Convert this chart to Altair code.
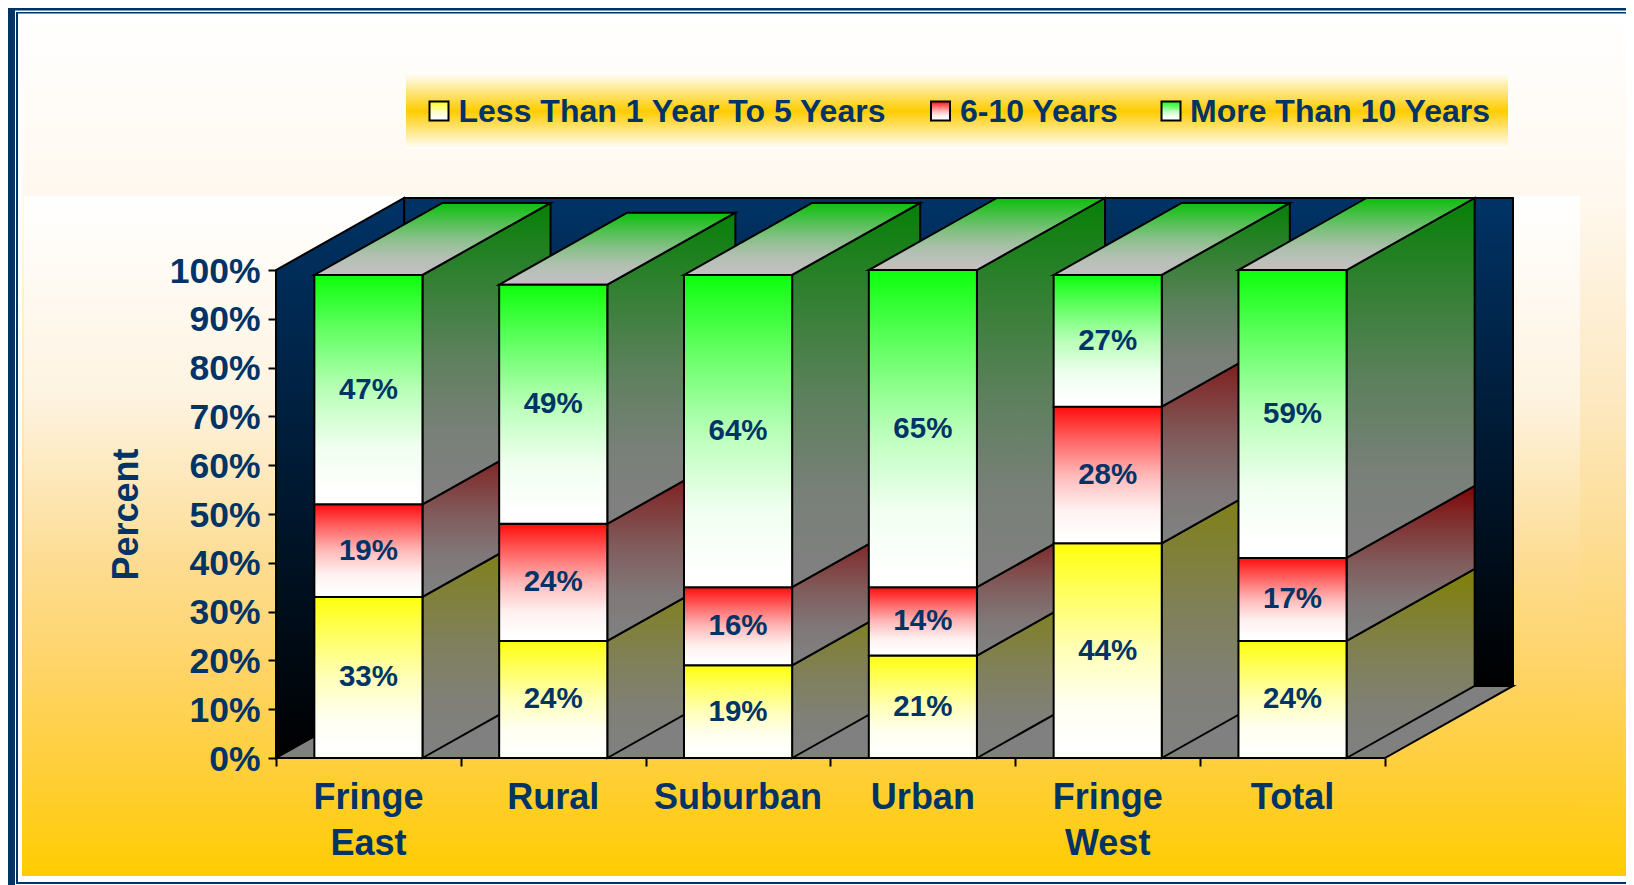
import altair as alt
import pandas as pd

# ---------- data ----------
categories = ["Fringe\nEast", "Rural", "Suburban", "Urban", "Fringe\nWest", "Total"]
series_names = ["Less Than 1 Year To 5 Years", "6-10 Years", "More Than 10 Years"]
under_5 = [33, 24, 19, 21, 44, 24]
six_ten = [19, 24, 16, 14, 28, 17]
over_10 = [47, 49, 64, 65, 27, 59]
series_values = [under_5, six_ten, over_10]
y_ticks = list(range(0, 101, 10))
x_ticks = list(range(0, 7))

# ---------- styling ----------
NAVY = "#003366"
FONT = "Liberation Sans"
FRONT = ["#ffff00", "#ff0000", "#00ff00"]
SIDE = ["#808000", "#800000", "#008000"]

# 3-D projection expressed in data units (categories / percent)
DX, DY = 0.693, 14.77
BAR = 0.585
PLOT_L, PLOT_T, PLOT_W, PLOT_H = 276, 198, 1237, 560

xs = alt.Scale(domain=[0, 6 + DX], nice=False, zero=False)
ys = alt.Scale(domain=[0, 100 + DY], nice=False, zero=False)

X_AXIS = alt.Axis(values=x_ticks, labels=False, title=None, domain=False, grid=False,
                  tickSize=8, tickWidth=2, tickColor="black", zindex=1)
Y_AXIS = alt.Axis(values=y_ticks, labelExpr="datum.value + '%'", domain=False, grid=False,
                  tickSize=8, tickWidth=2, tickColor="black", labelPadding=8, labelOffset=1,
                  labelFont=FONT, labelFontWeight="bold", labelFontSize=35.5,
                  labelColor=NAVY, labelBaseline="middle",
                  title="Percent", titleFont=FONT, titleFontWeight="bold",
                  titleFontSize=36, titleColor=NAVY, titleAngle=-90,
                  titleX=126 - PLOT_L, titleY=514 - PLOT_T,
                  titleAlign="center", titleBaseline="middle", zindex=1)


def X(f):
    return alt.X(f, scale=xs, axis=X_AXIS)


def Y(f):
    return alt.Y(f, scale=ys, axis=Y_AXIS)


def grad(stops):
    n = len(stops)
    items = [s if isinstance(s, tuple) else (i / (n - 1), s) for i, s in enumerate(stops)]
    return alt.LinearGradient(
        gradient="linear", x1=0, y1=0, x2=0, y2=1,
        stops=[alt.GradientStop(offset=o, color=c) for o, c in items],
    )


def fade(c0, c1):
    """Gradient that leaves c0 quickly and settles on c1, as the source shading does."""
    a = [int(c0[i:i + 2], 16) for i in (1, 3, 5)]
    b = [int(c1[i:i + 2], 16) for i in (1, 3, 5)]
    stops = []
    for off, m in [(0, 0.05), (0.25, 0.4), (0.5, 0.72), (0.75, 0.94), (0.95, 1)]:
        rgb = [round(p + (q - p) * m) for p, q in zip(a, b)]
        stops.append((off, "#%02x%02x%02x" % tuple(rgb)))
    return grad(stops)


def px(v):
    return alt.value(v - PLOT_L)


def py(v):
    return alt.value(v - PLOT_T)


ONE = pd.DataFrame({"k": [0]})


def box(x0, y0, x1, y1, fill):
    return alt.Chart(ONE).mark_rect(fill=fill, opacity=1).encode(
        x=px(x0), x2=px(x1), y=py(y0), y2=py(y1))


def horiz(y0, y1, l0, r0, l1, r1, fill, sw=2):
    df = pd.DataFrame({"y": [y0, y1], "a": [l0, l1], "b": [r0, r1]})
    return alt.Chart(df).mark_area(
        orient="horizontal", fill=fill, stroke="black", strokeWidth=sw, opacity=1
    ).encode(x=X("a:Q"), x2="b:Q", y=Y("y:Q"))


def vert(x0, x1, lo0, hi0, lo1, hi1, fill, sw=2):
    df = pd.DataFrame({"x": [x0, x1], "a": [lo0, lo1], "b": [hi0, hi1]})
    return alt.Chart(df).mark_area(
        orient="vertical", fill=fill, stroke="black", strokeWidth=sw, opacity=1
    ).encode(x=X("x:Q"), y=Y("a:Q"), y2="b:Q")


layers = []

# ---------- page decoration ----------
layers += [
    box(7, 3, 1700, 900, NAVY),
    box(15, 10.5, 1700, 900, "#ffffff"),
    box(16, 12, 1700, 884, NAVY),
    box(18, 13.5, 1700, 882, "#ffffff"),
    box(22, 14, 1630, 876, grad([
        (0, "#ffffff"), (0.216, "#fff8ee"), (0.448, "#fde8c0"), (0.642, "#fddb8a"),
        (0.758, "#ffd468"), (0.874, "#ffcf3a"), (1, "#ffcc00")])),
    box(24, 196, 1580, 876, grad([
        (0, "#ffffff"), (0.3, "#fef3e0"), (0.545, "#fddc90"),
        (0.69, "#ffd468"), (0.84, "#ffcf3a"), (1, "#ffcc00")])),
    box(406, 73, 1508, 149, grad([
        (0, "#ffffff"), (0.5, "#ffcc00"), (1, "#ffffff")])),
]

# ---------- legend ----------
legend_swatch_x = [429.5, 931, 1161.5]
legend_text_x = [458.5, 960, 1190]
for name, color, sx, tx in zip(series_names, FRONT, legend_swatch_x, legend_text_x):
    layers.append(
        alt.Chart(ONE).mark_rect(
            fill=fade(color, "#ffffff"), stroke="black", strokeWidth=2, opacity=1
        ).encode(x=px(sx), x2=px(sx + 19), y=py(101.5), y2=py(120.5))
    )
    layers.append(
        alt.Chart(ONE).mark_text(
            text=name, font=FONT, fontWeight="bold", fontSize=32, color=NAVY,
            align="left", baseline="middle",
        ).encode(x=px(tx), y=py(112))
    )

# ---------- walls and floor ----------
wall = grad(["#003366", "#000000"])
layers.append(horiz(DY, 100 + DY, DX, 6 + DX, DX, 6 + DX, wall))
layers.append(vert(0, DX, 0, 100, DY, 100 + DY, wall))
layers.append(horiz(0, DY, 0, 6, DX, 6 + DX, "#808080"))

# ---------- 3-D stacked bars, painted left to right ----------
for i in range(len(categories)):
    left, right = i + 0.5 - BAR / 2, i + 0.5 + BAR / 2
    base = 0
    for s in range(3):
        top = base + series_values[s][i]
        layers.append(vert(right, right + DX, base, top, base + DY, top + DY,
                           fade(SIDE[s], "#808080")))
        base = top
    layers.append(horiz(base, base + DY, left, right, left + DX, right + DX,
                        fade("#00c000", "#c0c0c0")))
    base = 0
    for s in range(3):
        top = base + series_values[s][i]
        df = pd.DataFrame({"a": [left], "b": [right], "lo": [base], "hi": [top]})
        layers.append(
            alt.Chart(df).mark_rect(
                fill=fade(FRONT[s], "#ffffff"), stroke="black", strokeWidth=2, opacity=1
            ).encode(x=X("a:Q"), x2="b:Q", y=Y("lo:Q"), y2="hi:Q")
        )
        base = top

# ---------- value labels ----------
rows = []
for i in range(len(categories)):
    base = 0
    for s in range(3):
        v = series_values[s][i]
        rows.append({"x": i + 0.5, "y": base + v / 2, "t": f"{v}%"})
        base += v
layers.append(
    alt.Chart(pd.DataFrame(rows)).mark_text(
        font=FONT, fontWeight="bold", fontSize=29.5, color=NAVY,
        align="center", baseline="middle",
    ).encode(x=X("x:Q"), y=Y("y:Q"), text="t:N")
)

# ---------- category labels ----------
cat_df = pd.DataFrame({"x": [i + 0.5 for i in range(6)], "y": [0] * 6, "t": categories})
layers.append(
    alt.Chart(cat_df).mark_text(
        font=FONT, fontWeight="bold", fontSize=36, color=NAVY, align="center",
        baseline="top", lineBreak="\n", lineHeight=46, dy=23,
    ).encode(x=X("x:Q"), y=Y("y:Q"), text="t:N")
)

chart = alt.layer(*layers).properties(
    width=PLOT_W,
    height=PLOT_H,
    autosize=alt.AutoSizeParams(type="none"),
    padding={
        "left": PLOT_L - 8,
        "top": PLOT_T - 8,
        "right": 1618 - (PLOT_L - 8) - PLOT_W,
        "bottom": 877 - (PLOT_T - 8) - PLOT_H,
    },
    background="white",
).configure_view(stroke=None)

chart.save("out.html", embed_options={"renderer": "svg", "actions": False})
